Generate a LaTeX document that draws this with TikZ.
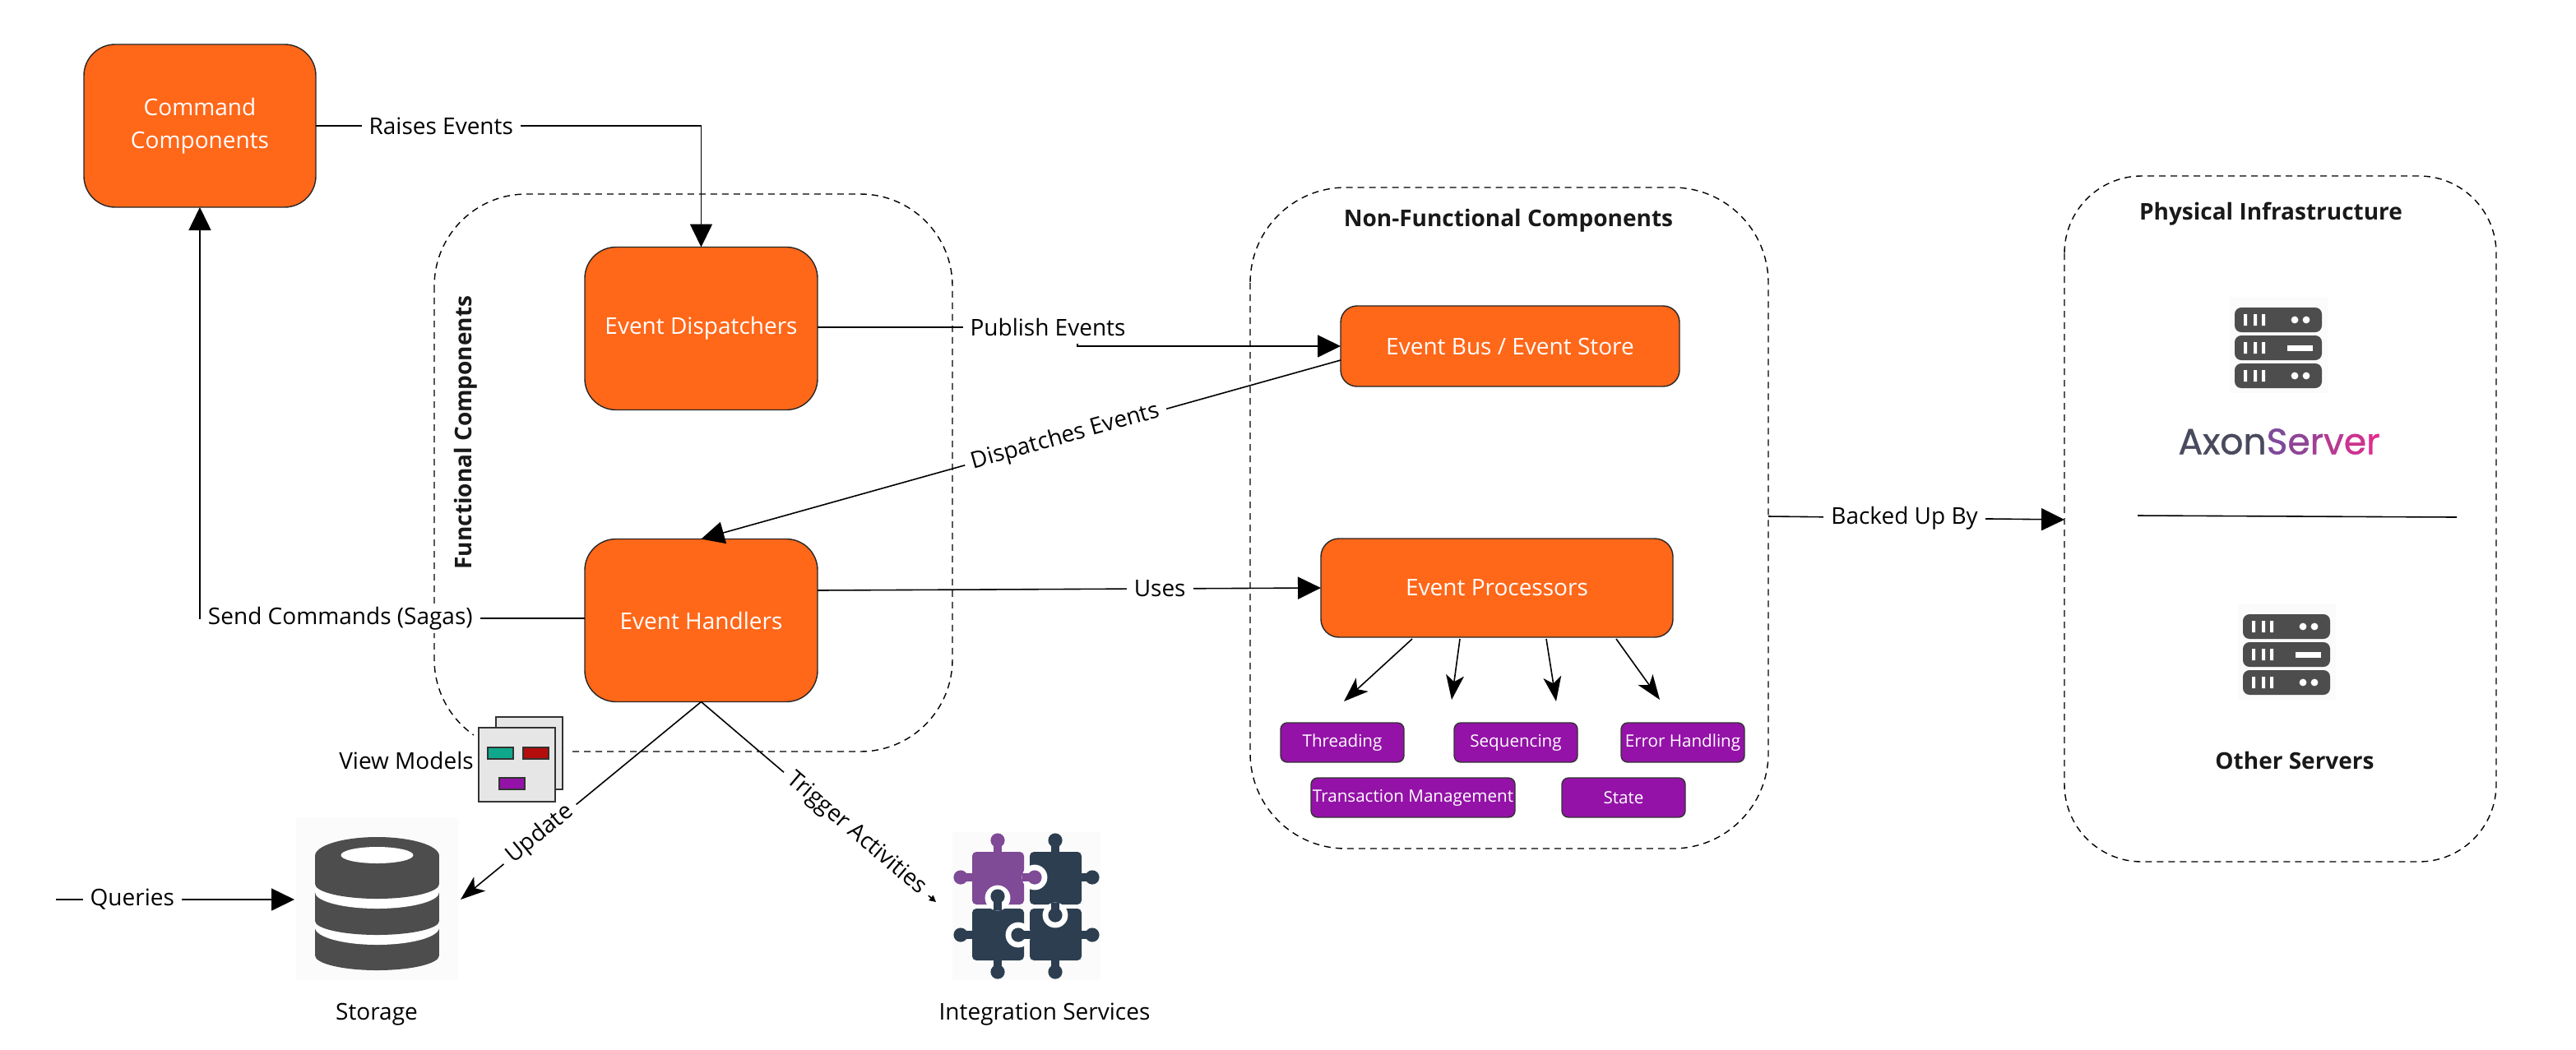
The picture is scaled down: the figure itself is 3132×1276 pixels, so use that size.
\documentclass[tikz,border=0pt]{standalone}
\usepackage{fontspec}
\setmainfont{Open Sans}
\usetikzlibrary{arrows.meta,calc,positioning}
\newfontfamily\logofont{Poppins}[FakeBold=1]
\definecolor{orangebox}{HTML}{FF6719}
\definecolor{purplebox}{HTML}{9412A8}
\definecolor{icongray}{HTML}{4D4D4D}
\definecolor{puzzlenavy}{HTML}{2C3E50}
\definecolor{puzzlepurple}{HTML}{7F4A96}
\definecolor{halo}{HTML}{FBFBFB}
\definecolor{pagefill}{HTML}{E6E6E6}
\definecolor{pageline}{HTML}{333333}
\definecolor{vmteal}{HTML}{10A88C}
\definecolor{vmred}{HTML}{B50C0C}
\newcommand{\serverrow}[2]{%
  \fill[icongray,rounded corners=4pt] (#1,#2) rectangle ++(106,30);
  \fill[white] (#1+11,#2+8) rectangle ++(4,14) (#1+23,#2+8) rectangle ++(4,14) (#1+33,#2+8) rectangle ++(4,14);}
\newcommand{\serverdots}[2]{%
  \fill[white] (#1+73,#2+15) circle[radius=2.2pt] (#1+87,#2+15) circle[radius=2.2pt];}
\newcommand{\serverbar}[2]{%
  \fill[white] (#1+64,#2+12) rectangle ++(31,7);}
\newcommand{\servericon}[2]{%
  \fill[halo] (#1-6,#2-13) rectangle ++(119,117);
  \serverrow{#1}{#2}\serverdots{#1}{#2}
  \serverrow{#1}{#2+34}\serverbar{#1}{#2+34}
  \serverrow{#1}{#2+68}\serverdots{#1}{#2+68}}
\newcommand{\puzzleknob}[5]{% colour, root x,y, head x,y
  \draw[#1,line width=5pt] (#2,#3) -- (#4,#5);
  \fill[#1] (#4,#5) circle[radius=4.3pt];}
\tikzset{
  every node/.style={font=\fontsize{14}{20}\selectfont},
  orangenode/.style={draw=black!85,line width=.7pt,fill=orangebox,rounded corners=19pt,text=white,align=center,inner sep=0pt,outer sep=0pt},
  purplenode/.style={draw=black!80,line width=.7pt,fill=purplebox,rounded corners=4pt,text=white,inner sep=0pt,outer sep=0pt,minimum width=75pt,minimum height=24pt,font=\fontsize{10.3}{12}\selectfont},
  groupbox/.style={draw=black,line width=.7pt,dash pattern=on 4pt off 3pt},
  lbl/.style={fill=white,inner xsep=4.5pt,inner ysep=2pt},
  title/.style={font=\fontsize{14}{16}\selectfont\bfseries,text=black!90},
  conn/.style={line width=.8pt,-{Triangle[length=14pt,width=13.5pt]}},
  thin conn/.style={line width=.8pt,-{Stealth[length=15pt,width=11pt,inset=4pt]}},
  tiny conn/.style={line width=.8pt,-{Triangle[length=4pt,width=4pt]}},
  pagebox/.style={draw=pageline,line width=.7pt,fill=pagefill},
  chip/.style={draw=pageline,line width=.7pt},
}
\begin{document}
\begin{tikzpicture}[x=0.5pt,y=-0.5pt]
\useasboundingbox (0,0) rectangle (3132,1276);
% groups
\draw[groupbox,rounded corners=56pt] (528,236) rectangle (1158,914);
\draw[groupbox,rounded corners=58pt] (1520,228) rectangle (2150,1032);
\draw[groupbox,rounded corners=47pt] (2510,214) rectangle (3035,1048);
\node[title,rotate=90] (functitle) at (566,526) {Functional Components};
\node[title] (nftitle) at (1834,268) {Non-Functional Components};
\node[title] (phytitle) at (2761,260) {Physical Infrastructure};
\node[title] (othertitle) at (2790,925) {Other Servers};
% main nodes
\node[orangenode,minimum width=141pt,minimum height=99pt] (cmd) at (243,153) {Command\\Components};
\node[orangenode,minimum width=141.5pt,minimum height=99pt] (disp) at (852.5,399.5) {Event Dispatchers};
\node[orangenode,minimum width=141.5pt,minimum height=99pt] (hand) at (852.5,754.5) {Event Handlers};
\node[orangenode,rounded corners=10pt,minimum width=206pt,minimum height=49pt] (bus) at (1836,421) {Event Bus / Event Store};
\node[orangenode,rounded corners=11pt,minimum width=214pt,minimum height=60pt] (proc) at (1820,715) {Event Processors};
% purple
\node[purplenode] (threading) at (1632,903) {Threading};
\node[purplenode] (sequencing) at (1843,903) {Sequencing};
\node[purplenode] (errorh) at (2046,903) {Error Handling};
\node[purplenode,minimum width=124pt] (txn) at (1718,970) {Transaction Management};
\node[purplenode] (state) at (1974,970) {State};
% free coordinates
\coordinate (busout) at (1630,438);
\coordinate (dispout) at (994,398);
\coordinate (pubel) at (1310,398);
\coordinate (handout) at (994,718);
\coordinate (handleft) at (711,752);
\coordinate (queries) at (68,1094);
\coordinate (storin) at (358,1094);
\coordinate (storup) at (560,1094);
\coordinate (integ) at (1138,1097);
\coordinate (phyin) at (2510,632);
\coordinate (nfout) at (2150,628);
\coordinate (t1) at (1634,853); \coordinate (t2) at (1765,851); \coordinate (t3) at (1892,853); \coordinate (t4) at (2018,851);
\coordinate (p1) at (1717,777); \coordinate (p2) at (1775,777); \coordinate (p3) at (1880,777); \coordinate (p4) at (1965,777);
\coordinate (sepa) at (2599,627); \coordinate (sepb) at (2987,629);
% connectors
\draw[conn] (cmd.east) -- node[lbl,pos=.325] (raises) {Raises Events} (disp.north |- cmd.east) -- (disp.north);
\draw[conn] (dispout) -- (pubel) -- (pubel |- bus.west) -- (bus.west);
\node[lbl,minimum height=20pt] (publish) at (1274,398) {Publish Events};
\draw[conn] (busout) -- node[lbl,sloped,pos=.43] (dispatches) {Dispatches Events} (hand.north);
\draw[conn] (handout) -- node[lbl,pos=.68] (uses) {Uses} (proc.west);
\draw[conn] (handleft) -- node[lbl,pos=.635] (sagas) {Send Commands (Sagas)} (cmd.south |- handleft) -- (cmd.south);
\draw[thin conn] (hand.south) -- node[lbl,sloped,pos=.67] (update) {Update} (storup);
\draw[tiny conn] (hand.south) -- node[lbl,sloped,pos=.66] (trigger) {Trigger Activities} (integ);
\draw[conn] (queries) -- node[lbl,pos=.32] (querylbl) {Queries} (storin);
\draw[conn] (nfout) -- node[lbl,pos=.46] (backed) {Backed Up By} (phyin);
\draw[line width=.8pt] (sepa) -- (sepb);
\foreach \a/\b in {p1/t1,p2/t2,p3/t3,p4/t4} \draw[thin conn] (\a) -- (\b);
% view models
\fill[white] (576,866) rectangle (690,980);
\draw[pagebox] (603,872) rectangle (684,960);
\draw[pagebox] (582,885) rectangle (675,975);
\draw[chip,fill=vmteal] (593,909) rectangle (624,923);
\draw[chip,fill=vmred] (636,909) rectangle (667,923);
\draw[chip,fill=purplebox] (607,946) rectangle (638,960);
\node (vm) at (494,925) {View Models};
% storage
\fill[halo] (360,995) rectangle (557,1192);
\fill[icongray] (383,1128) rectangle (534,1162);
\fill[icongray] (458.5,1162) ellipse [x radius=75.5, y radius=18];
\fill[white] (458.5,1128) ellipse [x radius=75.5, y radius=21];
\fill[icongray] (383,1085) rectangle (534,1120);
\fill[icongray] (458.5,1120) ellipse [x radius=75.5, y radius=17];
\fill[white] (458.5,1085) ellipse [x radius=75.5, y radius=20];
\fill[icongray] (383,1041) rectangle (534,1075);
\fill[icongray] (458.5,1075) ellipse [x radius=75.5, y radius=18];
\fill[icongray] (458.5,1041) ellipse [x radius=75.5, y radius=23];
\fill[white] (458.5,1040) ellipse [x radius=44, y radius=10];
\node (storage) at (458,1234) {Storage};
% puzzle
\fill[halo] (1158,1012) rectangle (1338,1192);
\fill[puzzlepurple,rounded corners=2.5pt] (1182,1036) rectangle (1245,1100);
\fill[puzzlenavy,rounded corners=2.5pt] (1252,1036) rectangle (1315,1100);
\fill[puzzlenavy,rounded corners=2.5pt] (1182,1105) rectangle (1245,1168);
\fill[puzzlenavy,rounded corners=2.5pt] (1252,1105) rectangle (1315,1168);
\puzzleknob{puzzlepurple}{1213}{1036}{1213}{1022}
\puzzleknob{puzzlepurple}{1182}{1067}{1168}{1067}
\puzzleknob{puzzlenavy}{1283}{1036}{1283}{1022}
\puzzleknob{puzzlenavy}{1315}{1067}{1328}{1067}
\puzzleknob{puzzlenavy}{1182}{1137}{1168}{1137}
\puzzleknob{puzzlenavy}{1213}{1168}{1213}{1182}
\puzzleknob{puzzlenavy}{1283}{1168}{1283}{1182}
\puzzleknob{puzzlenavy}{1315}{1137}{1328}{1137}
\fill[white] (1258,1067) circle[radius=7.7pt] (1213,1092) circle[radius=7.7pt] (1283,1113) circle[radius=7.7pt] (1238,1137) circle[radius=7.7pt];
\puzzleknob{puzzlepurple}{1243}{1067}{1258}{1067}
\puzzleknob{puzzlenavy}{1213}{1107}{1213}{1090}
\puzzleknob{puzzlenavy}{1283}{1098}{1283}{1113}
\puzzleknob{puzzlenavy}{1254}{1137}{1238}{1137}
\node (integlabel) at (1270,1234) {Integration Services};
% servers
\servericon{2717}{374}
\servericon{2727}{747}
\node[inner sep=0pt,font=\logofont\fontsize{22}{26}\selectfont] (axon) at (2771,537) {\textcolor[HTML]{4A4A5E}{Axon}\textcolor[HTML]{7F4A9A}{S}\textcolor[HTML]{8F4596}{e}\textcolor[HTML]{A13F94}{r}\textcolor[HTML]{B83A91}{v}\textcolor[HTML]{CC338F}{e}\textcolor[HTML]{E02C8E}{r}};
\end{tikzpicture}
\end{document}
